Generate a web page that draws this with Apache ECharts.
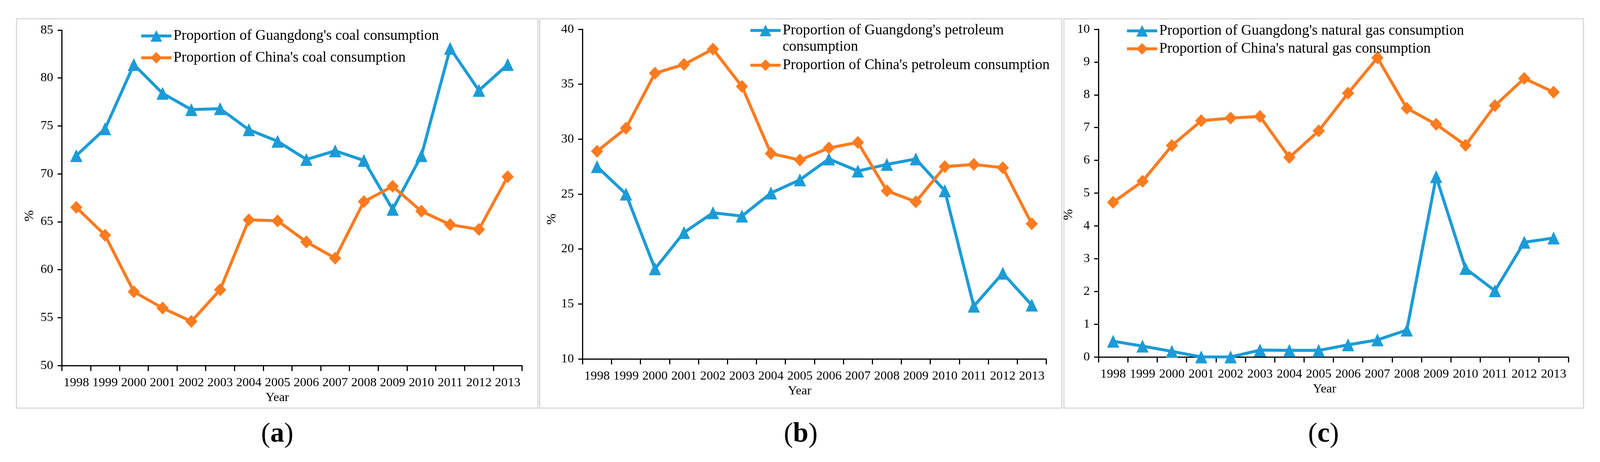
<!DOCTYPE html>
<html>
<head>
<meta charset="utf-8">
<script src="https://cdn.jsdelivr.net/npm/echarts@6.0.0/dist/echarts.min.js"></script>
<style>html,body{margin:0;padding:0;background:#fff;overflow:hidden}#c{width:100vw;height:100vh}</style>
</head>
<body>
<div id="c"></div>
<script>
const years = ['1998','1999','2000','2001','2002','2003','2004','2005','2006','2007','2008','2009','2010','2011','2012','2013'];

const gdCoal = [71.9, 74.7, 81.4, 78.4, 76.7, 76.8, 74.6, 73.4, 71.5, 72.4, 71.4, 66.3, 71.9, 83.1, 78.7, 81.4];
const cnCoal = [66.5, 63.6, 57.7, 56.0, 54.6, 57.9, 65.2, 65.1, 62.9, 61.2, 67.1, 68.7, 66.1, 64.7, 64.2, 69.7];

const gdPetro = [27.5, 25.0, 18.2, 21.5, 23.3, 23.0, 25.1, 26.3, 28.2, 27.1, 27.7, 28.2, 25.3, 14.8, 17.8, 14.9];
const cnPetro = [28.9, 31.0, 36.0, 36.8, 38.2, 34.8, 28.7, 28.1, 29.2, 29.7, 25.3, 24.3, 27.5, 27.7, 27.4, 22.3];

const gdGas = [0.48, 0.33, 0.17, 0.0, 0.0, 0.21, 0.2, 0.2, 0.37, 0.52, 0.82, 5.5, 2.7, 2.02, 3.5, 3.63];
const cnGas = [4.72, 5.36, 6.45, 7.21, 7.29, 7.34, 6.09, 6.9, 8.05, 9.13, 7.59, 7.1, 6.46, 7.67, 8.5, 8.08];

const nGdCoal = "Proportion of Guangdong's coal consumption";
const nCnCoal = "Proportion of China's coal consumption";
const nGdPetro = "Proportion of Guangdong's petroleum consumption";
const nCnPetro = "Proportion of China's petroleum consumption";
const nGdGas = "Proportion of Guangdong's natural gas consumption";
const nCnGas = "Proportion of China's natural gas consumption";

const yMin = [50, 10, 0];
const yMax = [85, 40, 10];
const yStep = [5, 5, 1];

const FONT = 'Liberation Serif';
const BLUE = '#1b9bd7';
const ORANGE = '#fc7b1f';

// layout in reference pixels (4444 x 1183), scaled to the actual viewport
const W = window.innerWidth || 4444, H = window.innerHeight || 1183;
const sx = W / 4444, sy = H / 1183, sf = Math.sqrt(sx * sy);
const X = v => v * sx, Y = v => v * sy, F = v => Math.round(v * sf * 10) / 10;

const gridRef = [
  [172, 77, 1278, 859],
  [1618, 75, 1288, 844],
  [3051, 75, 1305, 839]
];
const yNameGap = [71, 66, 46];
const yNamePad = [92, 128, 110];
const xNameGap = [50, 60, 57];
const xNamePad = [82, 82, 49];

function xAxis(i) {
  return {
    type: 'category', gridIndex: i, data: years, boundaryGap: true,
    axisLine: {show: true, lineStyle: {color: '#000', width: 3}},
    axisTick: {show: true, length: Y(14), lineStyle: {color: '#000', width: 3}},
    axisLabel: {color: '#000', fontFamily: FONT, fontSize: F(34), margin: Y(28), interval: 0},
    splitLine: {show: false},
    name: 'Year', nameLocation: 'middle', nameGap: Y(xNameGap[i]),
    nameTextStyle: {color: '#000', fontFamily: FONT, fontSize: F(34), padding: [0, X(xNamePad[i]), 0, 0]}
  };
}
function yAxis(i) {
  return {
    type: 'value', gridIndex: i, min: yMin[i], max: yMax[i], interval: yStep[i],
    axisLine: {show: true, lineStyle: {color: '#000', width: 3}},
    axisTick: {show: true, length: X(12), lineStyle: {color: '#000', width: 3}},
    axisLabel: {color: '#000', fontFamily: FONT, fontSize: F(34), margin: X(24)},
    splitLine: {show: false},
    name: '%', nameLocation: 'middle', nameRotate: 90, nameGap: X(yNameGap[i]),
    nameTextStyle: {color: '#000', fontFamily: FONT, fontSize: F(36), padding: [0, Y(yNamePad[i]), 0, 0]}
  };
}
function line(name, data, i, color, symbol) {
  return {
    type: 'line', name: name, data: data, xAxisIndex: i, yAxisIndex: i,
    symbol: symbol, symbolSize: [X(34), Y(33)], showAllSymbol: true,
    lineStyle: {color: color, width: F(8)},
    itemStyle: {color: color},
    emphasis: {disabled: true},
    animation: false
  };
}
const legendText = {color: '#000', fontFamily: FONT, fontSize: F(39), lineHeight: Y(42)};
function legend(left, top, gap, names, fmt) {
  return {
    orient: 'vertical', left: X(left), top: Y(top), padding: 0, itemGap: Y(gap),
    itemWidth: X(84), itemHeight: Y(37), textStyle: legendText, data: names,
    lineStyle: {width: F(8)},
    formatter: fmt || '{name}', selectedMode: false
  };
}

const panelRects = [
  [46, 48, 1448, 997],
  [1499, 48, 1450, 997],
  [2955, 48, 1443, 997]
];
const panelLabels = [['a', 770], ['b', 2224], ['c', 3676]];

const graphic = [];
panelRects.forEach(r => graphic.push({
  type: 'rect', silent: true, z: -1,
  shape: {x: X(r[0]), y: Y(r[1]), width: X(r[2]), height: Y(r[3])},
  style: {fill: 'transparent', stroke: '#d8d8d8', lineWidth: 3}
}));
panelLabels.forEach(p => graphic.push({
  type: 'text', silent: true, x: X(p[1]), y: Y(1113),
  style: {
    text: '{p|(}{b|' + p[0] + '}{p|)}', align: 'center', verticalAlign: 'middle',
    rich: {
      p: {fontFamily: FONT, fontSize: F(74), fill: '#000'},
      b: {fontFamily: FONT, fontSize: F(74), fontWeight: 'bold', fill: '#000'}
    }
  }
}));

const option = {
  backgroundColor: '#fff',
  animation: false,
  grid: gridRef.map(g => ({left: X(g[0]), top: Y(g[1]), width: X(g[2]), height: Y(g[3])})),
  xAxis: [xAxis(0), xAxis(1), xAxis(2)],
  yAxis: [yAxis(0), yAxis(1), yAxis(2)],
  legend: [
    legend(388, 71, 14, [nGdCoal, nCnCoal]),
    legend(2080, 15, 5, [nGdPetro, nCnPetro],
      function (n) { return n === nGdPetro ? " \nProportion of Guangdong's petroleum\nconsumption" : n; }),
    legend(3126, 58, 4, [nGdGas, nCnGas])
  ],
  series: [
    line(nGdCoal, gdCoal, 0, BLUE, 'triangle'),
    line(nCnCoal, cnCoal, 0, ORANGE, 'diamond'),
    line(nGdPetro, gdPetro, 1, BLUE, 'triangle'),
    line(nCnPetro, cnPetro, 1, ORANGE, 'diamond'),
    line(nGdGas, gdGas, 2, BLUE, 'triangle'),
    line(nCnGas, cnGas, 2, ORANGE, 'diamond')
  ],
  graphic: graphic
};

const chart = echarts.init(document.getElementById('c'), null, {renderer: 'canvas'});
chart.setOption(option);
</script>
</body>
</html>
